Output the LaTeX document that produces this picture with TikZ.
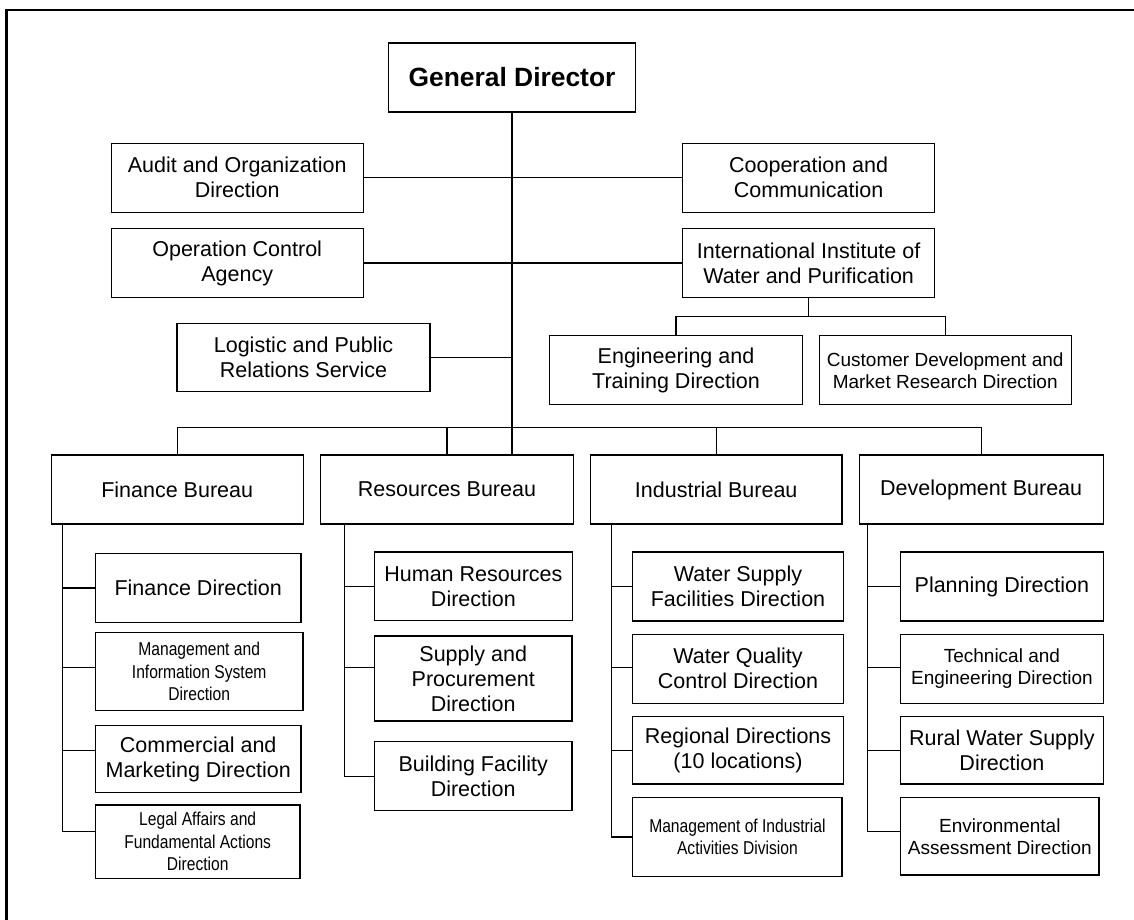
\documentclass[tikz,border=0pt]{standalone}
\usepackage{fontspec}
\setmainfont{Liberation Sans}
\newfontfamily\narrowfont[FakeStretch=0.84]{Liberation Sans}
\usepackage{tikz}

\begin{document}
\begin{tikzpicture}[x=1pt, y=-1pt,
    box/.style={draw, line width=1.3pt, align=center, inner sep=2pt, font=\fontsize{21.5}{25}\selectfont},
    smallbox/.style={box, font=\fontsize{19}{22}\selectfont},
    narrowbox/.style={box, font=\narrowfont\fontsize{18.6}{22.5}\selectfont},
    link/.style={line width=1.3pt}]
    \useasboundingbox (0,0) rectangle (1134,920);

    % frame
    \draw[line width=2.4pt] (6.5,920) -- (6.5,10) -- (1134,10);

    % top level
    \node[box, minimum width=247, minimum height=69, font=\bfseries\fontsize{26.4}{30}\selectfont] (gd) at (512,77.5) {General Director};
    \node[box, minimum width=252, minimum height=69] (audit) at (237.2,177.7) {Audit and Organization\\Direction};
    \node[box, minimum width=252, minimum height=69] (coop) at (808.6,177.7) {Cooperation and\\Communication};
    \node[box, minimum width=252, minimum height=69] (opctl) at (237.2,263) {Operation Control\\Agency};
    \node[box, minimum width=252, minimum height=69] (iiwp) at (808.6,263) {International Institute of\\Water and Purification};
    \node[box, minimum width=253, minimum height=68] (logpr) at (303.5,357.8) {Logistic and Public\\Relations Service};
    \node[box, minimum width=253, minimum height=69] (engtr) at (676,370.3) {Engineering and\\Training Direction};
    \node[smallbox, minimum width=252, minimum height=69] (custmr) at (945.2,370.3) {Customer Development and\\Market Research Direction};

    % bureaus
    \node[box, minimum width=252, minimum height=69] (finb) at (177.2,489.5) {Finance Bureau};
    \node[box, minimum width=253, minimum height=69] (resb) at (447,489.5) {Resources Bureau};
    \node[box, minimum width=251.5, minimum height=69] (indb) at (716.2,489.5) {Industrial Bureau};
    \node[box, minimum width=244, minimum height=69] (devb) at (981.2,489.5) {Development Bureau};

    % finance directions
    \node[box, minimum width=205.5, minimum height=68.6] (findir) at (198.2,588) {Finance Direction};
    \node[narrowbox, minimum width=207.5, minimum height=78] (mis) at (199.2,671.7) {Management and\\Information System\\Direction};
    \node[box, minimum width=205.5, minimum height=67] (commk) at (198.2,759.2) {Commercial and\\Marketing Direction};
    \node[narrowbox, minimum width=204.5, minimum height=73.3] (legal) at (197.7,841.7) {Legal Affairs and\\Fundamental Actions\\Direction};

    % resources directions
    \node[box, minimum width=198, minimum height=68.7] (hrd) at (473.4,586.4) {Human Resources\\Direction};
    \node[box, minimum width=197.7, minimum height=85] (spd) at (473.2,678.5) {Supply and\\Procurement\\Direction};
    \node[box, minimum width=197.7, minimum height=69] (bfd) at (473.2,776.2) {Building Facility\\Direction};

    % industrial directions
    \node[box, minimum width=210.5, minimum height=69] (wsf) at (738,586.5) {Water Supply\\Facilities Direction};
    \node[box, minimum width=210.5, minimum height=69] (wqc) at (738,668.8) {Water Quality\\Control Direction};
    \node[box, minimum width=210.5, minimum height=67.3] (regd) at (738,750.3) {Regional Directions\\(10 locations)};
    \node[narrowbox, minimum width=209.2, minimum height=79.4] (mia) at (737.4,837) {Management of Industrial\\Activities Division};

    % development directions
    \node[box, minimum width=202.8, minimum height=69] (plan) at (1001.9,586.5) {Planning Direction};
    \node[smallbox, minimum width=202.8, minimum height=69] (tech) at (1001.9,668.8) {Technical and\\Engineering Direction};
    \node[box, minimum width=202.8, minimum height=67.3] (rural) at (1001.9,750.3) {Rural Water Supply\\Direction};
    \node[smallbox, minimum width=198.5, minimum height=77.7] (envd) at (999.8,836.2) {Environmental\\Assessment Direction};

    % trunk and side links
    \draw[link] (gd.south) -- (gd.south |- resb.north);
    \draw[link] (audit.east) -- (coop.west);
    \draw[link] (opctl.east) -- (iiwp.west);
    \draw[link] (logpr.east) -- (logpr.east -| gd.south);

    % institute branch
    \coordinate (iisplit) at (808.6,316.3);
    \draw[link] (iiwp.south) -- (iisplit);
    \draw[link] (engtr.north) |- (iisplit) -| (custmr.north);

    % bureau branch
    \coordinate (bsplit) at (512,427.7);
    \draw[link] (finb.north) |- (bsplit) -| (devb.north);
    \draw[link] (resb.north) -- (resb.north |- bsplit);
    \draw[link] (indb.north) -- (indb.north |- bsplit);

    % spines
    \coordinate (finsp) at ([xshift=11.6pt]finb.south west);
    \coordinate (ressp) at ([xshift=24.6pt]resb.south west);
    \coordinate (indsp) at ([xshift=22pt]indb.south west);
    \coordinate (devsp) at ([xshift=9pt]devb.south west);
    \foreach \b/\dy in {findir/0, mis/4.4, commk/9, legal/10}
        \draw[link] ([yshift=\dy pt]\b.west) -| (finsp);
    \foreach \b/\dy in {hrd/0, spd/10.8, bfd/0}
        \draw[link] ([yshift=\dy pt]\b.west) -| (ressp);
    \foreach \b/\dy in {wsf/0, wqc/1, regd/0, mia/0}
        \draw[link] ([yshift=\dy pt]\b.west) -| (indsp);
    \foreach \b/\dy in {plan/0, tech/1, rural/0, envd/4.5}
        \draw[link] ([yshift=\dy pt]\b.west) -| (devsp);
\end{tikzpicture}
\end{document}
